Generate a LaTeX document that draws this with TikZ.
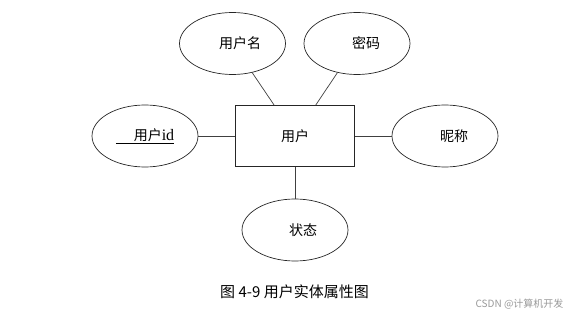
\documentclass[tikz,border=0pt]{standalone}
\usepackage{fontspec}
\setmainfont{Noto Sans CJK SC}
\newfontfamily\idfont{Liberation Serif}
\usetikzlibrary{shapes.geometric}
\tikzset{
  attr/.style={draw=black!85,ellipse,line width=0.7pt,minimum width=106pt,minimum height=62pt,inner sep=0pt,font=\fontsize{14}{16}\selectfont},
  entity/.style={draw=black!85,rectangle,line width=0.7pt,minimum width=119pt,minimum height=61pt,inner sep=0pt,font=\fontsize{14}{16}\selectfont},
  link/.style={draw=black!75,line width=0.7pt}
}
\begin{document}
\begin{tikzpicture}[x=1pt,y=-1pt]
\useasboundingbox (0,0) rectangle (582,315);

\node[entity] (user) at (295,136) {用户};

\node[attr] (uname) at (232.5,43.5) {\hspace*{15pt}用户名};
\node[attr] (pwd) at (357,43.5) {\hspace*{18pt}密码};
\node[attr] (uid) at (145,136) {\underline{\hspace*{18pt}用户{\idfont\fontsize{16}{18}\selectfont id}}};
\node[attr] (nick) at (445,136) {\hspace*{18pt}昵称};
\node[attr] (state) at (295,230) {\hspace*{16pt}状态};

\draw[link] (uname) -- (user);
\draw[link] (pwd) -- (user);
\draw[link] (uid) -- (user);
\draw[link] (nick) -- (user);
\draw[link] (state) -- (user);

\node[font=\fontsize{15}{17}\selectfont] (caption) at (294.5,291.5) {图 4-9 用户实体属性图};
\node[font=\fontsize{10}{12}\selectfont,text=black!40,anchor=east] (mark) at (567,304) {CSDN @计算机开发};
\end{tikzpicture}
\end{document}
